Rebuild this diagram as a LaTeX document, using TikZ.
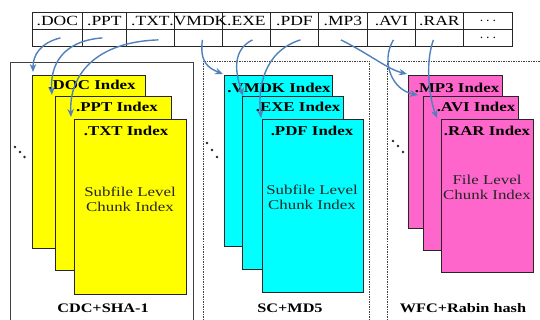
\documentclass[tikz,border=0pt]{standalone}
\usepackage{fontspec}
\setmainfont{Liberation Serif}[FakeStretch=1.25]
\usetikzlibrary{arrows.meta,calc}
\definecolor{arrowblue}{RGB}{79,129,189}
\definecolor{yellowidx}{RGB}{255,255,0}
\definecolor{cyanidx}{RGB}{0,255,255}
\definecolor{pinkidx}{RGB}{255,102,204}
\begin{document}
\begin{tikzpicture}[x=1pt,y=-1pt,
 cell/.style={draw=black!85,line width=0.8pt,anchor=north west,inner sep=0pt,minimum height=17pt},
 celltext/.style={font=\fontsize{14}{14}\selectfont,inner sep=0pt},
 idx/.style={draw=black!85,line width=0.9pt,anchor=north west,inner sep=0pt},
 idxlabel/.style={font=\fontsize{13.5}{14}\selectfont\bfseries,anchor=base,inner sep=0pt},
 body/.style={font=\fontsize{13.5}{15}\selectfont,align=center,text=black!85},
 flow/.style={draw=arrowblue,line width=1.4pt,-{Stealth[length=8pt,width=6.5pt]}},
 panel/.style={draw=black!75,line width=0.8pt},
 dpanel/.style={draw=black!75,line width=0.9pt,dash pattern=on 1.5pt off 1pt},
 grp/.style={font=\fontsize{13}{14}\selectfont\bfseries},
 dot/.style={fill=black!85}
]
\clip (0,0) rectangle (540,320);
\fill[white] (0,0) rectangle (540,320);

% panels
\draw[panel] (10,330) -- (10,62) -- (193,62) -- (193,330);
\draw[dpanel] (203,330) -- (203,61) -- (369,61) -- (369,330);
\draw[dpanel] (387,330) -- (387,61) -- (550,61);

% table
\node[cell,minimum width=50pt] (doc1) at (32,12) {};
\node[cell,minimum width=44pt] (ppt1) at (82,12) {};
\node[cell,minimum width=48pt] (txt1) at (126,12) {};
\node[cell,minimum width=48pt] (vmdk1) at (174,12) {};
\node[cell,minimum width=48pt] (exe1) at (222,12) {};
\node[cell,minimum width=48pt] (pdf1) at (270,12) {};
\node[cell,minimum width=49pt] (mp31) at (318,12) {};
\node[cell,minimum width=48pt] (avi1) at (367,12) {};
\node[cell,minimum width=48pt] (rar1) at (415,12) {};
\node[cell,minimum width=49pt] (more1) at (463,12) {};
\node[cell,minimum width=50pt] (doc2) at (32,29) {};
\node[cell,minimum width=44pt] (ppt2) at (82,29) {};
\node[cell,minimum width=48pt] (txt2) at (126,29) {};
\node[cell,minimum width=48pt] (vmdk2) at (174,29) {};
\node[cell,minimum width=48pt] (exe2) at (222,29) {};
\node[cell,minimum width=48pt] (pdf2) at (270,29) {};
\node[cell,minimum width=49pt] (mp32) at (318,29) {};
\node[cell,minimum width=48pt] (avi2) at (367,29) {};
\node[cell,minimum width=48pt] (rar2) at (415,29) {};
\node[cell,minimum width=49pt] (more2) at (463,29) {};

\node[celltext] (doct) at (doc1) {.DOC};
\node[celltext] (pptt) at (ppt1) {.PPT};
\node[celltext] (txtt) at (txt1) {.TXT};
\node[celltext] (vmdkt) at (vmdk1) {.VMDK};
\node[celltext] (exet) at (exe1) {.EXE};
\node[celltext] (pdft) at (pdf1) {.PDF};
\node[celltext] (mp3t) at (mp31) {.MP3};
\node[celltext] (avit) at (avi1) {.AVI};
\node[celltext] (rart) at (rar1) {.RAR};
\node[celltext] (moret) at (more1) {$\cdots$};
\node[celltext] (moret2) at (more2) {$\cdots$};

% yellow group
\node[idx,fill=yellowidx,minimum width=113pt,minimum height=173pt] (y1) at (32,75) {};
\node[idx,fill=yellowidx,minimum width=116pt,minimum height=174pt] (y2) at (55,96) {};
\node[idx,fill=yellowidx,minimum width=112pt,minimum height=175pt] (y3) at (74,119) {};
% cyan group
\node[idx,fill=cyanidx,minimum width=108pt,minimum height=171pt] (c1) at (224,75) {};
\node[idx,fill=cyanidx,minimum width=101pt,minimum height=173pt] (c2) at (242,96) {};
\node[idx,fill=cyanidx,minimum width=101pt,minimum height=173pt] (c3) at (262,119) {};
% pink group
\node[idx,fill=pinkidx,minimum width=94pt,minimum height=153pt] (m1) at (408,75) {};
\node[idx,fill=pinkidx,minimum width=95pt,minimum height=154pt] (m2) at (423,96) {};
\node[idx,fill=pinkidx,minimum width=92pt,minimum height=153pt] (m3) at (441,119) {};

% index labels
\node[idxlabel] (y1t) at (92,89.5) {.DOC Index};
\node[idxlabel] (y2t) at (117,112) {.PPT Index};
\node[idxlabel] (y3t) at (126,136) {.TXT Index};
\node[idxlabel] (c1t) at (279,92.5) {.VMDK Index};
\node[idxlabel] (c2t) at (298,112) {.EXE Index};
\node[idxlabel] (c3t) at (312,135.5) {.PDF Index};
\node[idxlabel] (m1t) at (457,92.5) {.MP3 Index};
\node[idxlabel] (m2t) at (476,112) {.AVI Index};
\node[idxlabel] (m3t) at (487,135.5) {.RAR Index};

\node[body] (ybody) at (130,199) {Subfile Level\\Chunk Index};
\node[body] (cbody) at (312,197) {Subfile Level\\Chunk Index};
\node[body] (mbody) at (487,187) {File Level\\Chunk Index};

\node[grp] (g1) at (103,308) {CDC+SHA-1};
\node[grp] (g2) at (290,308) {SC+MD5};
\node[grp] (g3) at (463,308) {WFC+Rabin hash};

% ellipsis dots
\fill[dot] (15,147) circle (1.4pt) (20,152) circle (1.4pt) (24.5,157) circle (1.4pt);
\fill[dot] (207,143) circle (1.4pt) (212,150) circle (1.4pt) (217,157) circle (1.4pt);
\fill[dot] (393,141) circle (1.4pt) (398,146) circle (1.4pt) (403,152) circle (1.4pt);

% arrows
\draw[flow] ($(doc2.center)+(3,0)$) .. controls +(-20,5) and +(0,-17) .. ($(y1.north west)+(1,-3)$);
\draw[flow] ($(ppt2.center)+(-2,0)$) .. controls +(-40,3) and +(-2,-30) .. ($(y2.north west)+(-3,-1)$);
\draw[flow] ($(txt2.center)+(8,2)$) .. controls +(-63,2) and +(-2,-42) .. ($(y3.north west)+(-3,-2)$);
\draw[flow] ($(vmdk2.center)+(4,2)$) .. controls +(-3,22) and +(-15,-6) .. ($(c1.north west)+(-1,-1)$);
\draw[flow] ($(exe2.center)+(6,2)$) .. controls +(-24,12) and +(-5,-16) .. ($(c2.north west)+(1,0)$);
\draw[flow] ($(pdf2.center)+(6,2)$) .. controls +(-38,12) and +(-3,-28) .. ($(c3.north west)+(-1,-1)$);
\draw[flow] ($(mp32.center)+(-2,2)$) .. controls +(30,15) and +(-20,-5) .. ($(m1.north west)+(-1,-1)$);
\draw[flow] ($(avi2.center)+(2,2)$) .. controls +(-13,22) and +(-26,-5) .. ($(m2.north west)+(-5,-1)$);
\draw[flow] ($(rar2.center)+(-6,2)$) .. controls +(-9,25) and +(-7,-18) .. ($(m3.north west)+(-4,-1)$);
\end{tikzpicture}
\end{document}
